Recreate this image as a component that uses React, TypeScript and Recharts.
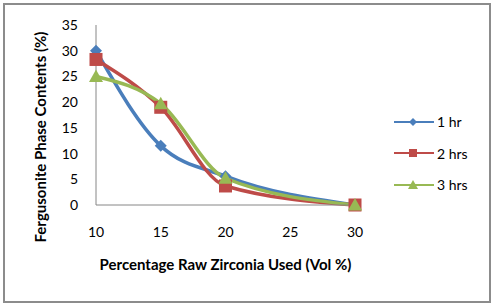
import React from "react";
import { LineChart, Line, XAxis, YAxis, Label } from "recharts";

const categories = ["10", "15", "20", "25", "30"];
const oneHr = [30, 11.5, 5.6, null, 0];
const twoHrs = [28.3, 19, 3.7, null, 0];
const threeHrs = [25, 19.7, 5.2, null, 0];
const yTicks = [0, 5, 10, 15, 20, 25, 30, 35];

const data = categories.map((c, i) => ({ x: c, a: oneHr[i], b: twoHrs[i], c: threeHrs[i] }));

const BLUE = "#4A7EBB";
const RED = "#BE4B48";
const GREEN = "#98B954";
const FONT = "Lato, 'Open Sans', sans-serif";

const Diamond = (p: any) => {
  const { cx, cy } = p;
  if (cx == null || cy == null || p.value == null) return null;
  const r = 6;
  return <path key={p.key} d={`M${cx},${cy - r}L${cx + r},${cy}L${cx},${cy + r}L${cx - r},${cy}Z`} fill={BLUE} />;
};
const Square = (p: any) => {
  const { cx, cy } = p;
  if (cx == null || cy == null || p.value == null) return null;
  const s = 6.5;
  return <rect key={p.key} x={cx - s} y={cy - s} width={2 * s} height={2 * s} fill={RED} />;
};
const Tri = (p: any) => {
  const { cx, cy } = p;
  if (cx == null || cy == null || p.value == null) return null;
  const r = 7;
  return <path key={p.key} d={`M${cx},${cy - r}L${cx + r},${cy + r * 0.8}L${cx - r},${cy + r * 0.8}Z`} fill={GREEN} />;
};

const legendItems = [
  { name: "1 hr", color: BLUE, kind: "d" },
  { name: "2 hrs", color: RED, kind: "s" },
  { name: "3 hrs", color: GREEN, kind: "t" },
];

const LegendBox = () => (
  <div style={{ position: "absolute", left: 394, top: 106, fontFamily: FONT, fontSize: 14, color: "#000" }}>
    {legendItems.map((it) => (
      <div key={it.name} style={{ display: "flex", alignItems: "center", height: 31.5 }}>
        <svg width={40} height={14} style={{ marginRight: 3 }}>
          <line x1={0} y1={7} x2={40} y2={7} stroke={it.color} strokeWidth={2} />
          {it.kind === "d" && <path d="M19,3L23,7L19,11L15,7Z" fill={it.color} />}
          {it.kind === "s" && <rect x={15} y={3} width={8} height={8} fill={it.color} />}
          {it.kind === "t" && <path d="M19,2L24,11L14,11Z" fill={it.color} />}
        </svg>
        <span>{it.name}</span>
      </div>
    ))}
  </div>
);

const YTitle = () => (
  <text
    x={40}
    y={137}
    transform="rotate(-90 40 137)"
    textAnchor="middle"
    dominantBaseline="central"
    style={{ fontWeight: "bold", fontSize: 15, fontFamily: FONT, fill: "#000" }}
  >
    Fergusonite Phase Contents (%)
  </text>
);

export default function App() {
  return (
    <div style={{ position: "absolute", left: 0, top: 0, width: 494, height: 308, background: "#fff" }}>
      <div
        style={{
          position: "absolute",
          left: 3,
          top: 3,
          width: 484,
          height: 296,
          border: "2px solid #8C8C8C",
        }}
      />
      <div style={{ position: "absolute", left: 0, top: 0 }}>
        <LineChart
          width={494}
          height={308}
          data={data}
          margin={{ top: 25, right: 139, left: 0, bottom: 63 }}
        >
          <XAxis
            dataKey="x"
            type="category"
            axisLine={{ stroke: "#868686" }}
            tickLine={false}
            tickMargin={16}
            height={40}
            tick={{ fill: "#000", fontSize: 14, fontFamily: FONT }}
          >
            <Label
              value="Percentage Raw Zirconia Used (Vol %)"
              position="bottom"
              offset={14}
              style={{ fontWeight: "bold", fontSize: 15, fontFamily: FONT, fill: "#000" }}
            />
          </XAxis>
          <YAxis
            type="number"
            domain={[0, 35]}
            ticks={yTicks}
            interval={0}
            width={96}
            axisLine={{ stroke: "#868686" }}
            tickLine={false}
            tickMargin={12}
            tick={{ fill: "#000", fontSize: 14, fontFamily: FONT }}
          >
            <Label value="Fergusonite Phase Contents (%)" content={<YTitle />} />
          </YAxis>
          <Line
            dataKey="a"
            name="1 hr"
            type="monotone"
            stroke={BLUE}
            strokeWidth={3.5}
            connectNulls
            isAnimationActive={false}
            dot={Diamond}
            activeDot={false}
          />
          <Line
            dataKey="b"
            name="2 hrs"
            type="monotone"
            stroke={RED}
            strokeWidth={3.5}
            connectNulls
            isAnimationActive={false}
            dot={Square}
            activeDot={false}
          />
          <Line
            dataKey="c"
            name="3 hrs"
            type="monotone"
            stroke={GREEN}
            strokeWidth={3.5}
            connectNulls
            isAnimationActive={false}
            dot={Tri}
            activeDot={false}
          />
        </LineChart>
      </div>
      <LegendBox />
    </div>
  );
}
